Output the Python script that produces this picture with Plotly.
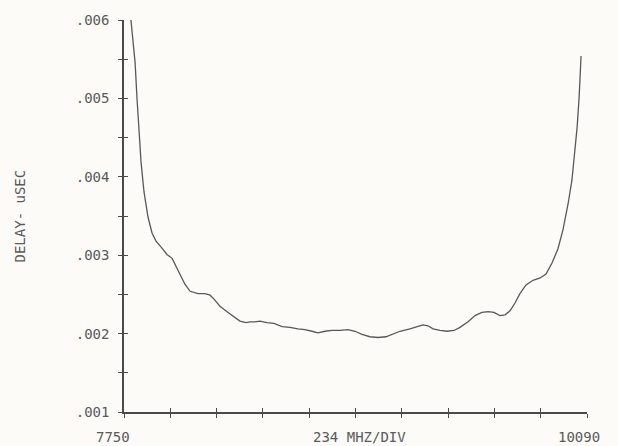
import plotly.graph_objects as go

# Frequency (MHz) and group delay (uSEC)
freq = [7785, 7795, 7806, 7816, 7826, 7836, 7851, 7871, 7892, 7912, 7942, 7967, 7993,
        8013, 8033, 8058, 8084, 8124, 8159, 8185, 8205, 8235, 8271, 8306, 8336, 8367,
        8387, 8412, 8437, 8473, 8508, 8549, 8589, 8629, 8665, 8700, 8730, 8766, 8801,
        8842, 8882, 8917, 8953, 8993, 9034, 9074, 9109, 9145, 9195, 9236, 9261, 9286,
        9312, 9347, 9382, 9418, 9448, 9489, 9524, 9559, 9590, 9620, 9650, 9676, 9701,
        9726, 9751, 9782, 9817, 9853, 9883, 9913, 9943, 9969, 9994, 10014, 10029, 10040,
        10050, 10055, 10060]
delay = [0.00600, 0.00571, 0.00546, 0.00499, 0.00457, 0.00419, 0.00381, 0.00349, 0.00328,
         0.00318, 0.00309, 0.00301, 0.00296, 0.00286, 0.00276, 0.00263, 0.00254, 0.00251,
         0.00251, 0.00249, 0.00244, 0.00235, 0.00228, 0.00222, 0.00216, 0.00214, 0.00215,
         0.00215, 0.00216, 0.00214, 0.00213, 0.00209, 0.00208, 0.00206, 0.00205, 0.00203,
         0.00201, 0.00203, 0.00204, 0.00204, 0.00205, 0.00203, 0.00199, 0.00196, 0.00195,
         0.00196, 0.00199, 0.00203, 0.00206, 0.00209, 0.00211, 0.00210, 0.00206, 0.00204,
         0.00203, 0.00204, 0.00208, 0.00215, 0.00223, 0.00227, 0.00228, 0.00227, 0.00223,
         0.00224, 0.00229, 0.00239, 0.00251, 0.00262, 0.00268, 0.00271, 0.00276, 0.00290,
         0.00308, 0.00333, 0.00365, 0.00396, 0.00432, 0.00463, 0.00501, 0.00533, 0.00554]

x_start, x_end, x_step = 7750, 10090, 234
x_labels = ["7750", "234 MHZ/DIV", "10090"]
y_ticks = [0.001, 0.0015, 0.002, 0.0025, 0.003, 0.0035, 0.004, 0.0045, 0.005, 0.0055, 0.006]
y_text = [".001", "", ".002", "", ".003", "", ".004", "", ".005", "", ".006"]
y_title = "DELAY- uSEC"

FONT = "DejaVu Sans Mono"
INK = "#5a5a5a"
AX = "#4a4a4a"

fig = go.Figure()
fig.add_trace(go.Scatter(x=freq, y=delay, mode="lines",
                         line=dict(color="#585858", width=1.3), showlegend=False,
                         hoverinfo="skip"))
# dummy trace for overlay axes (crossing ticks)
fig.add_trace(go.Scatter(x=[None], y=[None], xaxis="x2", yaxis="y2", showlegend=False))

xt = [x_start + i * x_step for i in range(11)]
common_x = dict(range=[x_start, x_end], tickvals=xt, showgrid=False, zeroline=False,
                showline=True, linecolor=AX, linewidth=1.5, tickcolor=AX, ticklen=4,
                tickwidth=1.2, showticklabels=False)
common_y = dict(range=[0.001, 0.006], tickvals=y_ticks, showgrid=False, zeroline=False,
                showline=True, linecolor=AX, linewidth=1.5, tickcolor=AX, ticklen=4,
                tickwidth=1.2)

fig.update_layout(
    width=618, height=446,
    margin=dict(l=124, r=31, t=17, b=34),
    paper_bgcolor="#fcfbf8", plot_bgcolor="#fcfbf8",
    font=dict(family=FONT, color=INK, size=14),
    xaxis=dict(**common_x, ticks="outside"),
    yaxis=dict(**common_y, ticks="outside", ticktext=y_text, ticklabelstandoff=6,
               tickfont=dict(family=FONT, size=14, color=INK)),
    xaxis2=dict(**common_x, ticks="inside", overlaying="x", matches="x"),
    yaxis2=dict(**common_y, ticks="inside", overlaying="y", matches="y",
                showticklabels=False),
)

fig.add_annotation(x=x_start, y=0, xref="x", yref="paper", text=x_labels[0],
                   showarrow=False, xanchor="center", yanchor="top", xshift=-11, yshift=-15,
                   font=dict(family=FONT, size=14, color=INK))
fig.add_annotation(x=(x_start + x_end) / 2 + 20, y=0, xref="x", yref="paper", text=x_labels[1],
                   showarrow=False, xanchor="center", yanchor="top", yshift=-15,
                   font=dict(family=FONT, size=14, color=INK))
fig.add_annotation(x=x_end, y=0, xref="x", yref="paper", text=x_labels[2],
                   showarrow=False, xanchor="center", yanchor="top", xshift=-8, yshift=-15,
                   font=dict(family=FONT, size=14, color=INK))
fig.add_annotation(x=(20 - 124) / 463, y=(412 - 215) / 395, xref="paper", yref="paper",
                   text=y_title, textangle=-90, showarrow=False,
                   xanchor="center", yanchor="middle",
                   font=dict(family=FONT, size=14, color=INK))

fig.write_html("out.html")
